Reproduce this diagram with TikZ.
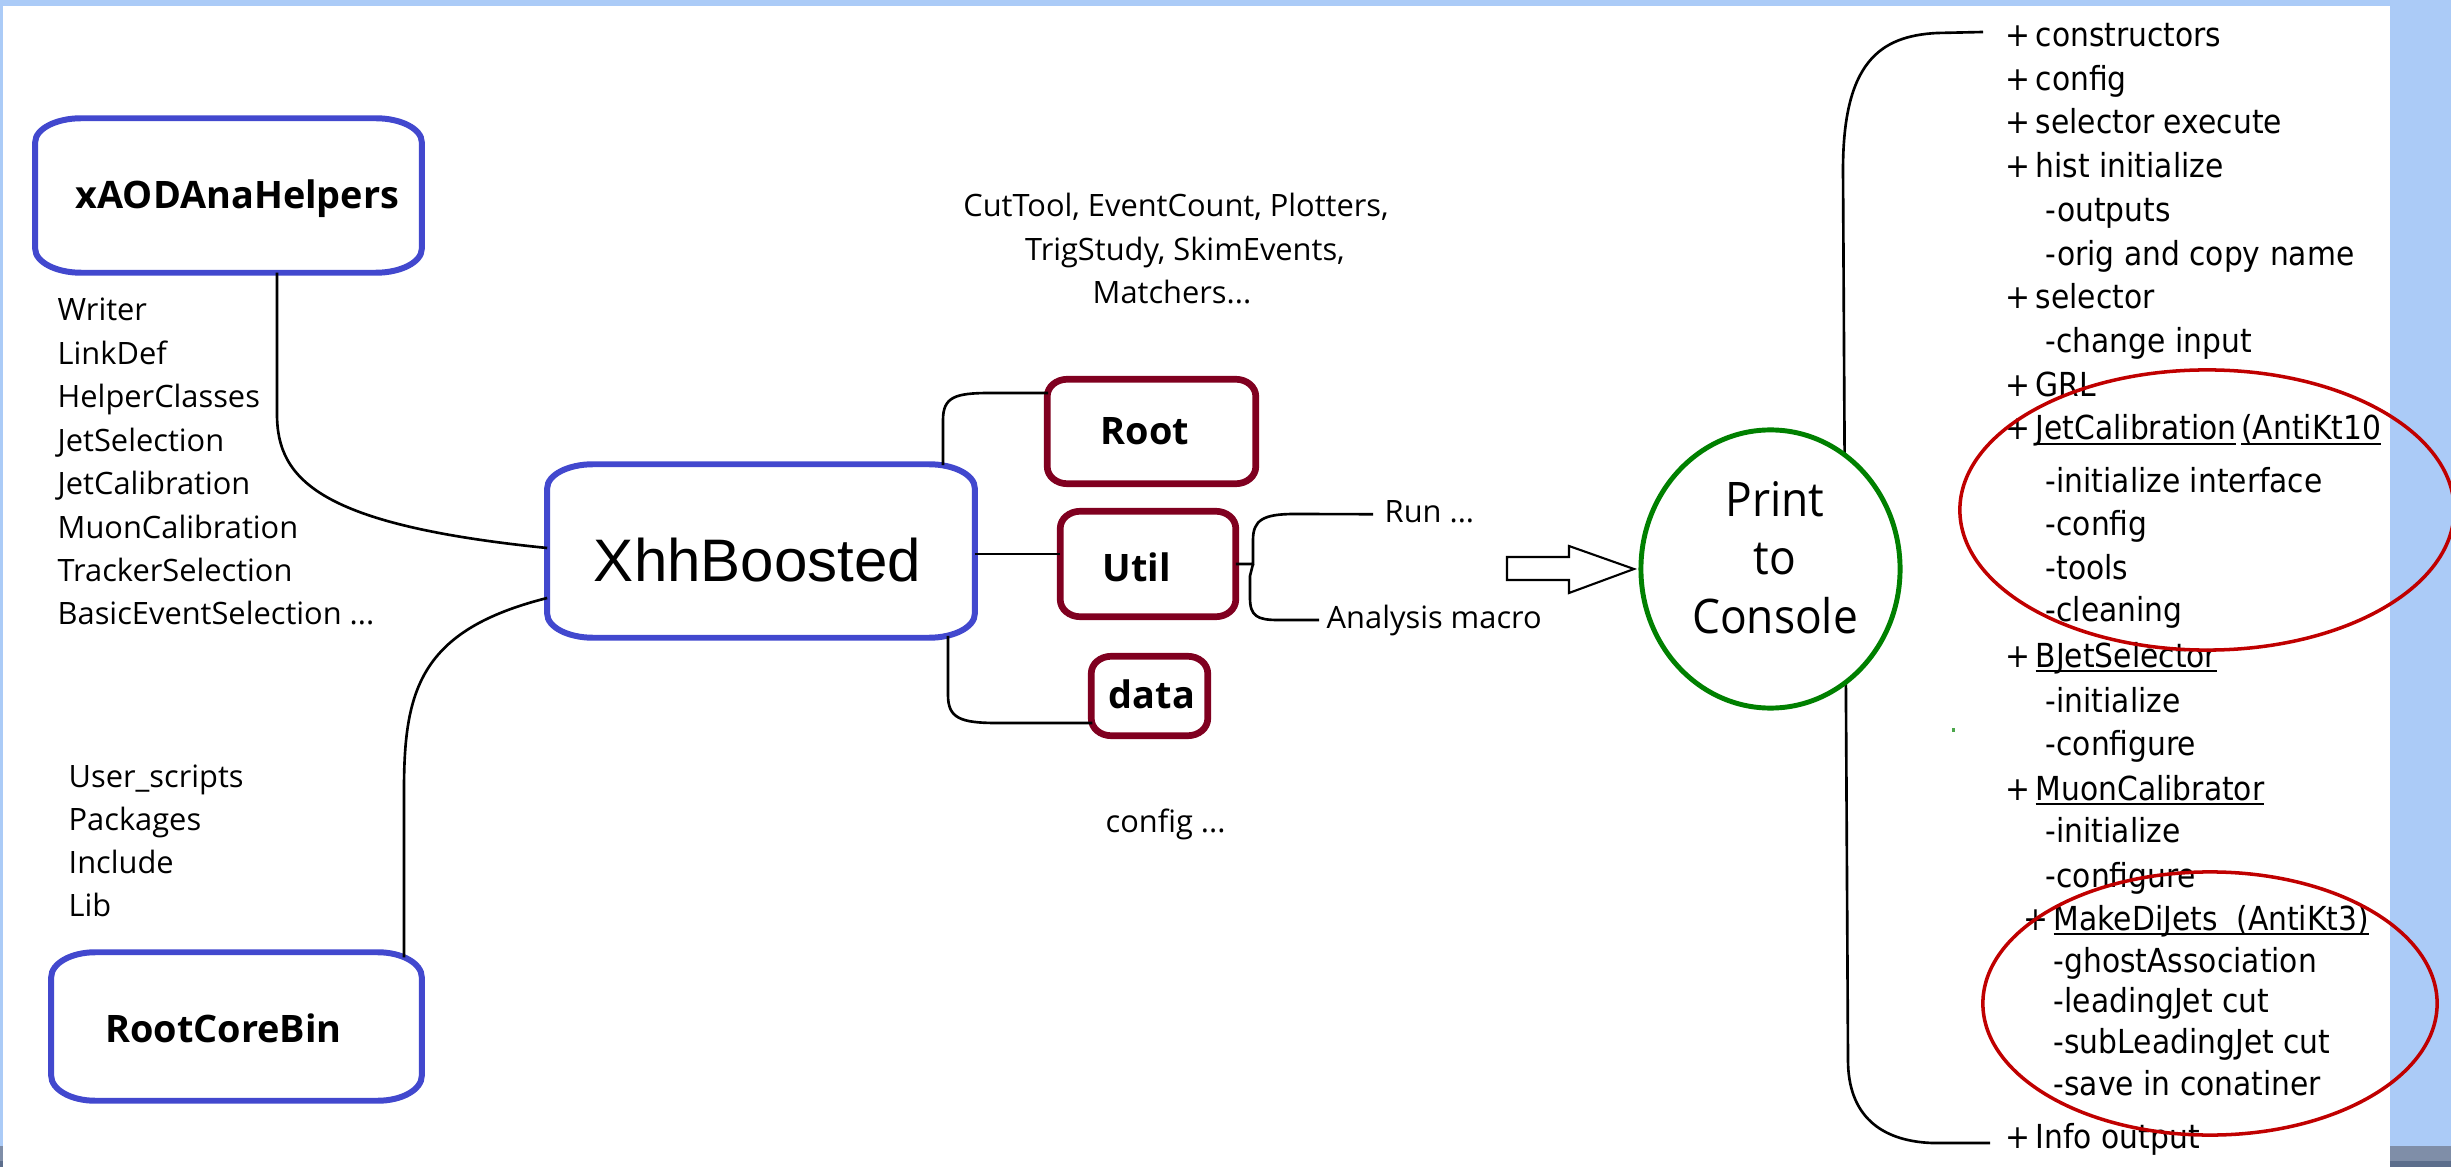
\documentclass[tikz,border=0pt]{standalone}
\usepackage{fontspec}
\setmainfont{Open Sans}
\newfontfamily\arialish{Liberation Sans}
\newfontfamily\tah[FakeStretch=0.9]{DejaVu Sans}
\newfontfamily\segui[FakeStretch=0.93]{Open Sans}
\usetikzlibrary{calc,shapes.geometric}

\definecolor{bluebg}{RGB}{171,203,247}
\definecolor{gray1}{RGB}{127,142,168}
\definecolor{gray2}{RGB}{92,110,140}
\definecolor{boxblue}{RGB}{66,72,206}
\definecolor{boxred}{RGB}{128,0,32}
\definecolor{ringgreen}{RGB}{0,128,0}
\definecolor{ringred}{RGB}{192,0,0}

% list item helpers
\newcommand\plusitem[1]{\makebox[0.30cm][l]{+}#1}
\newcommand\undl[1]{\setbox0\hbox{#1}\rlap{\rule[-1.4pt]{\wd0}{0.6pt}}\box0\relax}
\newcommand\trail{...}

% frame with elliptical corners around a named node: node, style, x radius, y radius
\newcommand\ovalframe[4]{%
  \draw[#2] ([xshift=#3]#1.north west) -- ([xshift=-#3]#1.north east)
    arc[start angle=90,end angle=0,x radius=#3,y radius=#4]
    -- ([yshift=#4]#1.south east)
    arc[start angle=0,end angle=-90,x radius=#3,y radius=#4]
    -- ([xshift=#3]#1.south west)
    arc[start angle=270,end angle=180,x radius=#3,y radius=#4]
    -- ([yshift=-#4]#1.north west)
    arc[start angle=180,end angle=90,x radius=#3,y radius=#4] -- cycle;}

\begin{document}
\begin{tikzpicture}[x=0.01cm,y=-0.01cm,
  conn/.style={draw=black,line width=0.75pt},
  lst/.style={anchor=base west,inner sep=0pt,font=\fontsize{8.76pt}{10.5pt}\selectfont},
  ctr/.style={anchor=base,inner sep=0pt,font=\fontsize{8.76pt}{10.5pt}\selectfont},
  rlist/.style={anchor=base west,inner sep=0pt,font=\tah\fontsize{9.4pt}{11pt}\selectfont},
  boxlabel/.style={anchor=base,inner sep=0pt,font=\bfseries\fontsize{10.76pt}{12pt}\selectfont},
  frame/.style={inner sep=0pt},
  blueline/.style={draw=boxblue,line width=1.7pt},
  redline/.style={draw=boxred,line width=1.9pt},
  ring/.style={ellipse,draw=ringred,line width=1pt,inner sep=0pt},
]
\useasboundingbox (0,0) rectangle (2451,1167);
% slide background and sheet
\fill[bluebg] (0,0) rectangle (2451,1167);
\fill[gray1] (0,1146) rectangle (2451,1161);
\fill[gray2] (0,1161) rectangle (2451,1167);
\fill[white] (3,6) rectangle (2390,1167);

% boxes
\node[frame,minimum width=3.85cm,minimum height=1.53cm] (xaod) at (228.5,195.5) {};
\node[frame,minimum width=3.69cm,minimum height=1.47cm] (rcb) at (236.5,1026.5) {};
\node[frame,minimum width=4.26cm,minimum height=1.72cm] (xhh) at (761,551) {};
\node[frame,minimum width=2.07cm,minimum height=1.03cm] (root) at (1151.5,431.5) {};
\node[frame,minimum width=1.74cm,minimum height=1.04cm] (util) at (1148,564) {};
\node[frame,minimum width=1.15cm,minimum height=0.78cm] (data) at (1149.5,696) {};

\ovalframe{xaod}{blueline}{0.46cm}{0.24cm}
\ovalframe{rcb}{blueline}{0.44cm}{0.25cm}
\ovalframe{xhh}{blueline}{0.46cm}{0.24cm}
\ovalframe{root}{redline}{0.20cm}{0.17cm}
\ovalframe{util}{redline}{0.20cm}{0.17cm}
\ovalframe{data}{redline}{0.20cm}{0.17cm}

\node[boxlabel] (xaod-t) at (237.5,209) {xAODAnaHelpers};
\node[boxlabel] (rcb-t) at (223.5,1042) {RootCoreBin};
\node[anchor=base,inner sep=0pt,font=\arialish\fontsize{17.07pt}{20pt}\selectfont] (xhh-t) at (757.5,581) {XhhBoosted};
\node[boxlabel] (root-t) at (1145,445) {Root};
\node[boxlabel] (util-t) at (1136.5,581) {Util};
\node[boxlabel] (data-t) at (1152,708) {data};

% package contents
\foreach \txt [count=\i] in {Writer,LinkDef,HelperClasses,JetSelection,JetCalibration,MuonCalibration,TrackerSelection,BasicEventSelection \trail}
  \node[lst] (xa\i) at (57,{321+43.4*(\i-1)}) {\txt};
\foreach \txt [count=\i] in {User\_scripts,Packages,Include,Lib}
  \node[lst] (rc\i) at (68,{787+43.3*(\i-1)}) {\txt};

\node[ctr] (cut1) at (1176,217) {CutTool, EventCount, Plotters,};
\node[ctr] (cut2) at (1185,260.5) {TrigStudy, SkimEvents,};
\node[ctr] (cut3) at (1172,304) {Matchers...};
\node[lst] (cfg) at (1105,832) {config ...};
\node[lst] (run) at (1384,523) {Run ...};
\node[lst] (anal) at (1326,628) {Analysis macro};

% connectors
\draw[conn] ($(xaod.south)+(48.5,0)$) -- (277,414) .. controls (277,480) and (320,525) .. ($(xhh.west)+(0,-3)$);
\draw[conn] ($(rcb.north)+(167.5,5)$) -- (404,790) .. controls (404,690) and (420,630) .. ($(xhh.west)+(0,47)$);
\draw[conn] ($(xhh.north)+(182,1)$) -- (943,420) .. controls (943,397) and (955,393) .. (990,393) -- ($(root.west)+(1,-38.5)$);
\draw[conn] ($(xhh.east)+(0,3)$) -- ($(util.west)+(0,-10)$);
\draw[conn] ($(xhh.south)+(187,-2)$) -- (948,695) .. controls (948,718) and (960,723) .. (997,723) -- ($(data.west)+(1,27)$);
\draw[conn] (util.east) -- (1253,564) -- (1253,540) .. controls (1253,520) and (1263,514) .. (1295,514) -- ($(run.west)+(-11,2)$);
\draw[conn] (1253,564) -- (1250,576) -- (1250,598) .. controls (1250,616) and (1257,620) .. (1278,620) -- ($(anal.west)+(-7,0)$);

% block arrow
\draw[line width=0.6pt,fill=white] (1507,557) -- (1569,557) -- (1569,546) -- (1634,569) -- (1569,593) -- (1569,580) -- (1507,580) -- cycle;

% console output list
\foreach \xx/\yy/\txt [count=\i] in {
  2005/47/{\plusitem{constructors}},
  2005/91/{\plusitem{config}},
  2005/134/{\plusitem{selector execute}},
  2005/178/{\plusitem{hist initialize}},
  2045/222/{-outputs},
  2045/266/{-orig and copy name},
  2005/309/{\plusitem{selector}},
  2045/353/{-change input},
  2005/397/{\plusitem{GRL}},
  2005/440/{\plusitem{\undl{JetCalibration}\hspace{0.05cm}\undl{(AntiKt10}}},
  2045/492/{-initialize interface},
  2045/535/{-config},
  2045/580/{-tools},
  2045/622/{-cleaning},
  2005/667/{\plusitem{\undl{BJetSelector}}},
  2045/712/{-initialize},
  2045/755/{-configure},
  2005/800/{\plusitem{\undl{MuonCalibrator}}},
  2045/842/{-initialize},
  2045/887/{-configure},
  2023/930/{\plusitem{\undl{MakeDiJets\ \ (AntiKt3)}}},
  2053/972/{-ghostAssociation},
  2053/1012/{-leadingJet cut},
  2053/1053/{-subLeadingJet cut},
  2053/1095/{-save in conatiner},
  2005/1148/{\plusitem{Info output}}}
  \node[rlist] (r\i) at (\xx,\yy) {\txt};

% bracket from the console to the list
\draw[conn] ($(r1.base west)+(-22,-15)$) -- (1937,33) .. controls (1880,36) and (1843,62) .. (1843,170) -- (1848,1060) .. controls (1848,1115) and (1880,1141) .. (1932,1143) -- ($(r26.base west)+(-15,-5)$);

% console
\node[ellipse,draw=ringgreen,line width=1.4pt,fill=white,minimum width=2.59cm,minimum height=2.78cm,inner sep=0pt] (pc) at (1770.5,569) {};
\node[align=center,inner sep=0pt,font=\segui\fontsize{13.55pt}{16.64pt}\selectfont] (pc-t) at (1775,557.5) {Print\\to\\Console};

% highlight rings
\node[ring,minimum width=4.94cm,minimum height=2.80cm] (ring1) at (2207,510) {};
\node[ring,minimum width=4.54cm,minimum height=2.63cm] (ring2) at (2210,1003.5) {};

\fill[ringgreen!70!white] (1952,728) rectangle (1955,732);
\end{tikzpicture}
\end{document}
